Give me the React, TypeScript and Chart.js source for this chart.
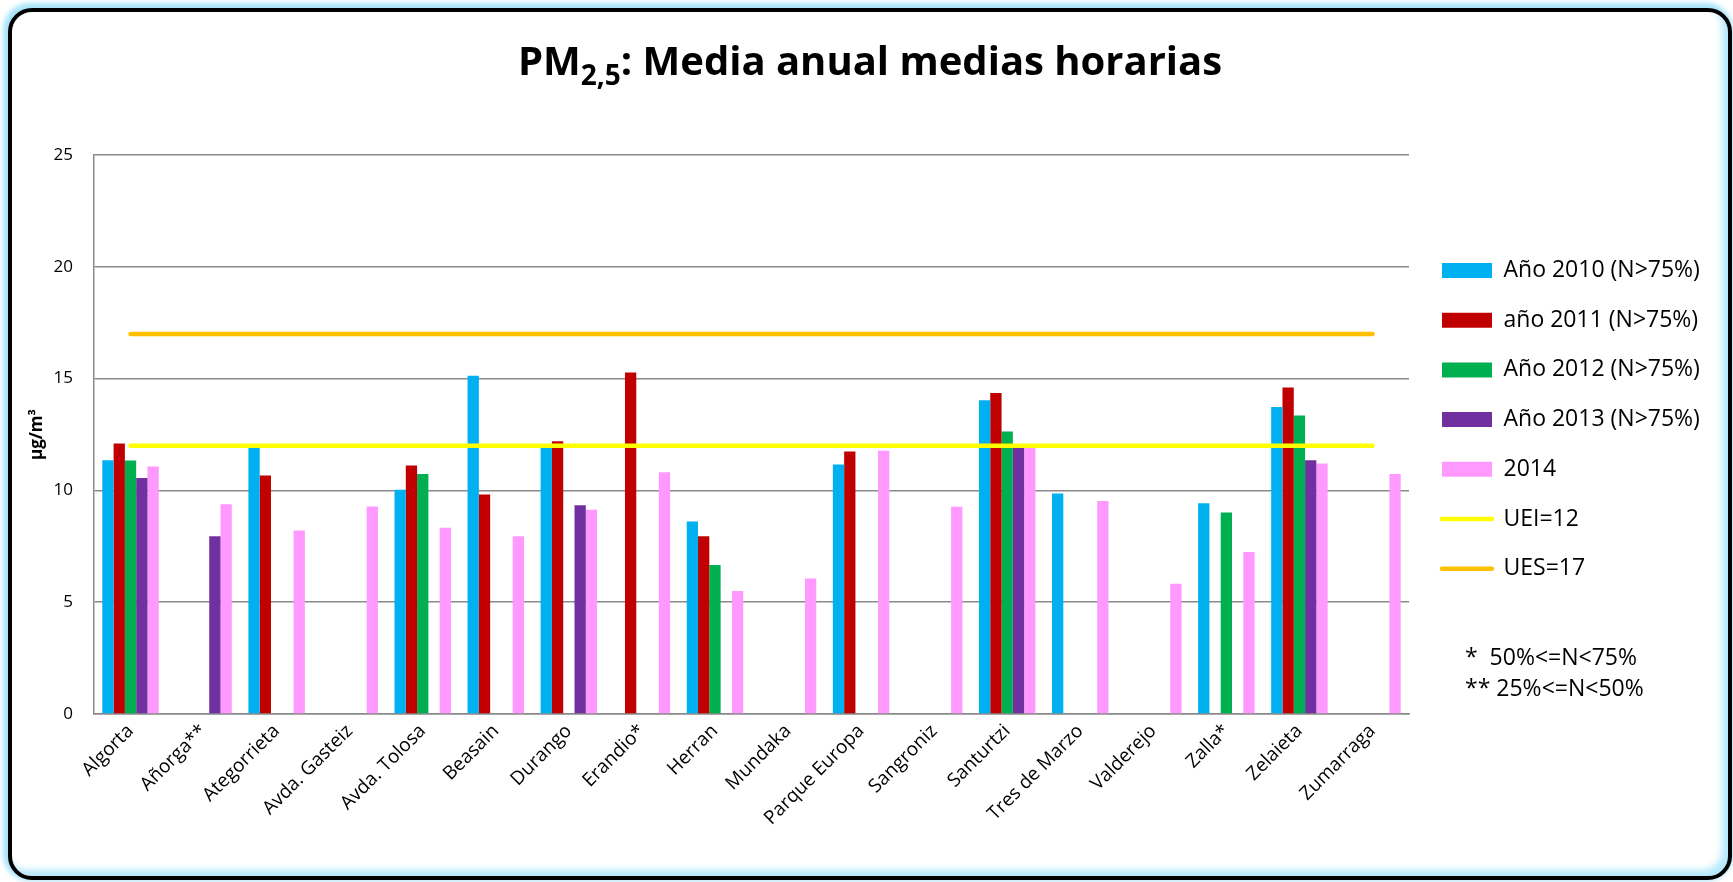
import React, { useEffect, useRef } from 'react';
import { Chart, registerables } from 'chart.js';

Chart.register(...registerables);

const categories = [
  'Algorta', 'Añorga**', 'Ategorrieta', 'Avda. Gasteiz', 'Avda. Tolosa', 'Beasain',
  'Durango', 'Erandio*', 'Herran', 'Mundaka', 'Parque Europa', 'Sangroniz',
  'Santurtzi', 'Tres de Marzo', 'Valderejo', 'Zalla*', 'Zelaieta', 'Zumarraga',
];

const ano2010 = [11.35, null, 11.95, null, 10.03, 15.13, 11.95, null, 8.61, null, 11.16, null, 14.03, 9.86, null, 9.43, 13.73, null];
const ano2011 = [12.1, null, 10.67, null, 11.11, 9.82, 12.2, 15.27, 7.95, null, 11.74, null, 14.36, null, null, null, 14.6, null];
const ano2012 = [11.34, null, null, null, 10.73, null, null, null, 6.66, null, null, null, 12.63, null, null, 9.01, 13.35, null];
const ano2013 = [10.55, 7.95, null, null, null, null, 9.34, null, null, null, null, null, 11.95, null, null, null, 11.35, null];
const ano2014 = [11.07, 9.38, 8.21, 9.28, 8.33, 7.95, 9.13, 10.81, 5.5, 6.06, 11.77, 9.27, 11.9, 9.53, 5.82, 7.25, 11.2, 10.73];
const uei12 = [12, 12, 12, 12, 12, 12, 12, 12, 12, 12, 12, 12, 12, 12, 12, 12, 12, 12];
const ues17 = [17, 17, 17, 17, 17, 17, 17, 17, 17, 17, 17, 17, 17, 17, 17, 17, 17, 17];

const seriesLabels = ['Año 2010 (N>75%)', 'año 2011 (N>75%)', 'Año 2012 (N>75%)', 'Año 2013 (N>75%)', '2014'];
const seriesColors = ['#00B0F0', '#C00000', '#00B050', '#7030A0', '#FF99FF'];
const lineLabels = ['UEI=12', 'UES=17'];
const lineColors = ['#FFFF00', '#FFC000'];

const yMin = 0;
const yMax = 25;
const yStep = 5;
const yTitle = 'µg/m³';
const notes = '*  50%<=N<75%\n** 25%<=N<50%';

const FONT = '"Open Sans", "DejaVu Sans", sans-serif';
const GRID = '#8a8a8a';
const CANVAS_W = 1716;
const CANVAS_H = 864;
const LEGEND_PAD = 26.7;
const LEGEND_X = 1430;
const LEGEND_FIRST_Y = 247;

const legendNudge = {
  id: 'legendNudge',
  afterLayout(chart: any) {
    const lg = chart.legend;
    if (!lg) return;
    const dx = LEGEND_X - LEGEND_PAD - lg.left;
    lg.left += dx;
    lg.right += dx;
    const dy = LEGEND_FIRST_Y - LEGEND_PAD - lg.top;
    lg.top += dy;
    lg.bottom += dy;
  },
};

export default function App() {
  const ref = useRef<HTMLCanvasElement | null>(null);

  useEffect(() => {
    if (!ref.current) return;
    Chart.defaults.font.family = FONT;
    const barSeries = [ano2010, ano2011, ano2012, ano2013, ano2014];
    const lineSeries = [uei12, ues17];
    const datasets: any[] = [
      ...barSeries.map((d, i) => ({
        type: 'bar',
        label: seriesLabels[i],
        data: d,
        backgroundColor: seriesColors[i],
        borderWidth: 0,
        categoryPercentage: 0.773,
        barPercentage: 1,
        order: 1,
      })),
      ...lineSeries.map((d, i) => ({
        type: 'line',
        label: lineLabels[i],
        data: d,
        borderColor: lineColors[i],
        backgroundColor: lineColors[i],
        borderWidth: 4.5,
        borderCapStyle: 'round',
        pointRadius: 0,
        fill: false,
        order: 0,
      })),
    ];

    const chart = new Chart(ref.current, {
      type: 'bar',
      data: { labels: categories, datasets },
      options: {
        responsive: false,
        devicePixelRatio: 1,
        animation: false,
        layout: { padding: { left: 0, right: 29, top: 143, bottom: 0 } },
        plugins: {
          title: { display: false },
          tooltip: { enabled: false },
          legend: {
            position: 'right',
            align: 'start',
            maxWidth: 290,
            labels: {
              usePointStyle: true,
              pointStyleWidth: 50,
              boxHeight: 15,
              padding: LEGEND_PAD,
              color: '#000',
              font: { size: 23, family: FONT },
              generateLabels: (c: any) =>
                c.data.datasets.map((ds: any, i: number) => {
                  const isLine = ds.type === 'line';
                  return {
                    text: ds.label,
                    fillStyle: isLine ? ds.borderColor : ds.backgroundColor,
                    strokeStyle: isLine ? ds.borderColor : ds.backgroundColor,
                    lineWidth: isLine ? 4.5 : 0,
                    lineCap: 'round',
                    pointStyle: isLine ? 'line' : 'rect',
                    hidden: false,
                    datasetIndex: i,
                    fontColor: '#000',
                  };
                }),
            },
          },
        },
        scales: {
          x: {
            grid: { display: false, drawTicks: false },
            border: { display: true, color: GRID, width: 1.5 },
            ticks: {
              autoSkip: false,
              maxRotation: 45,
              minRotation: 45,
              padding: 6,
              color: '#000',
              font: { size: 19, family: FONT },
            },
            afterFit: (s: any) => { s.height = CANVAS_H - 702; },
          },
          y: {
            min: yMin,
            max: yMax,
            ticks: { stepSize: yStep, padding: 21, color: '#000', font: { size: 17, family: FONT } },
            grid: { color: GRID, lineWidth: 1.5, drawTicks: false },
            border: { display: true, color: GRID, width: 1.5 },
            title: {
              display: true,
              text: yTitle,
              color: '#000',
              font: { size: 17, weight: 'bold', family: FONT },
              padding: { top: 15, bottom: 0 },
            },
            afterFit: (s: any) => { s.width = 82; },
          },
        },
      } as any,
      plugins: [legendNudge],
    });
    return () => chart.destroy();
  }, []);

  return (
    <div
      style={{
        position: 'absolute',
        left: 8,
        top: 8,
        width: 1724,
        height: 872,
        boxSizing: 'border-box',
        border: '4px solid #000',
        borderRadius: 24,
        background: '#fff',
        boxShadow: '-2px -2px 5px 3px #a6e3fa, inset -6px -6px 7px 0px #b3e9fc',
      }}
    >
      <canvas ref={ref} width={CANVAS_W} height={CANVAS_H} style={{ display: 'block', position: 'absolute', left: 0, top: 0 }} />
      <div
        style={{
          position: 'absolute',
          left: 0,
          right: 0,
          top: 28,
          textAlign: 'center',
          fontFamily: FONT,
          fontWeight: 'bold',
          fontSize: 40,
          lineHeight: 1,
          color: '#000',
        }}
      >
        PM<span style={{ fontSize: 28, position: 'relative', top: 10 }}>2,5</span>: Media anual medias horarias
      </div>
      <div
        style={{
          position: 'absolute',
          left: 1453,
          top: 629,
          whiteSpace: 'pre',
          fontFamily: FONT,
          fontSize: 23,
          lineHeight: '31px',
          color: '#000',
        }}
      >
        {notes}
      </div>
    </div>
  );
}
